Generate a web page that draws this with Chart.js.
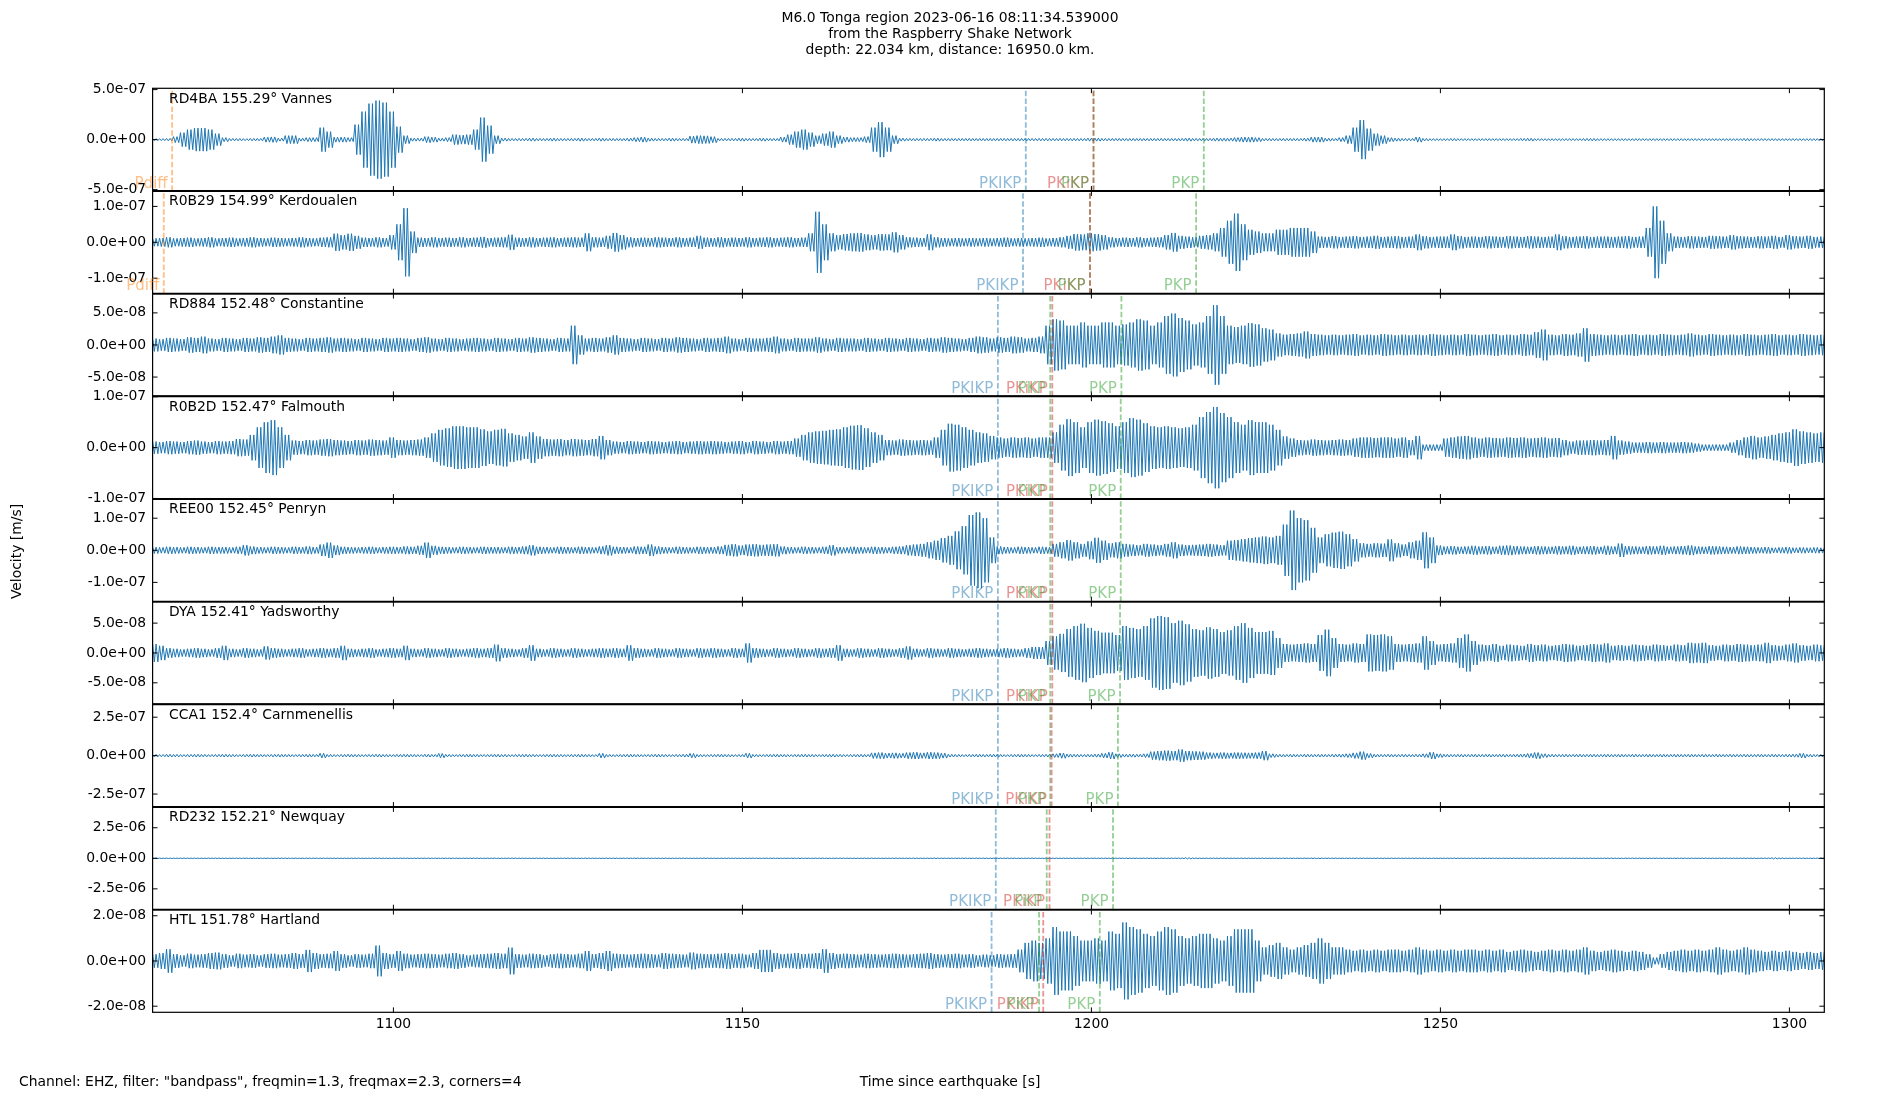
<!DOCTYPE html>
<html>
<head>
<meta charset="utf-8">
<title>M6.0 Tonga region - Raspberry Shake section</title>
<script src="https://cdn.jsdelivr.net/npm/chart.js@4.4.0/dist/chart.umd.min.js"></script>
<style>
  html, body { margin: 0; padding: 0; background: #fff; }
  canvas { display: block; }
</style>
</head>
<body>
<canvas id="seis" width="1900" height="1100"></canvas>
<script>
const titleLines = [
    'M6.0 Tonga region 2023-06-16 08:11:34.539000',
    'from the Raspberry Shake Network',
    'depth: 22.034 km, distance: 16950.0 km.'
];
const xLabel = 'Time since earthquake [s]';
const yLabel = 'Velocity [m/s]';
const footNote = 'Channel: EHZ, filter: "bandpass", freqmin=1.3, freqmax=2.3, corners=4';

const timeStart = 1065.5;
const timeEnd = 1305;
const xTicks = [1100, 1150, 1200, 1250, 1300];

const stationNames = [
    'RD4BA 155.29° Vannes',
    'R0B29 154.99° Kerdoualen',
    'RD884 152.48° Constantine',
    'R0B2D 152.47° Falmouth',
    'REE00 152.45° Penryn',
    'DYA 152.41° Yadsworthy',
    'CCA1 152.4° Carnmenellis',
    'RD232 152.21° Newquay',
    'HTL 151.78° Hartland'
];

// y range of each panel (m/s), symmetric
const yLimits = [5.13e-7, 1.43e-7, 8.0e-8, 1.01e-7, 1.6e-7, 8.6e-8, 3.34e-7, 4.2e-6, 2.27e-8];
const yTickValues = [
    [-5e-7, 0, 5e-7],
    [-1e-7, 0, 1e-7],
    [-5e-8, 0, 5e-8],
    [-1e-7, 0, 1e-7],
    [-1e-7, 0, 1e-7],
    [-5e-8, 0, 5e-8],
    [-2.5e-7, 0, 2.5e-7],
    [-2.5e-6, 0, 2.5e-6],
    [-2e-8, 0, 2e-8]
];

// peak amplitude read for every second 1066 ... 1305, in nm/s
const ampRD4BA = [
    10, 10, 12, 30, 70, 100, 115, 115, 100, 60,
    20, 12, 12, 10, 12, 12, 25, 27, 15, 40,
    40, 15, 20, 20, 120, 80, 25, 25, 20, 150,
    280, 360, 390, 370, 280, 130, 40, 15, 15, 30,
    25, 15, 20, 50, 45, 50, 100, 220, 140, 40,
    15, 12, 12, 12, 15, 12, 12, 15, 12, 12,
    12, 15, 12, 12, 15, 12, 12, 12, 15, 20,
    25, 15, 12, 12, 15, 12, 12, 35, 40, 38,
    30, 12, 12, 12, 15, 12, 12, 15, 12, 12,
    25, 50, 80, 100, 70, 40, 60, 80, 40, 25,
    20, 20, 30, 120, 175, 120, 40, 15, 12, 12,
    12, 12, 15, 12, 12, 12, 12, 12, 12, 12,
    12, 12, 12, 12, 12, 12, 12, 12, 12, 12,
    12, 12, 12, 12, 15, 15, 12, 12, 12, 12,
    12, 12, 12, 12, 12, 12, 12, 12, 15, 12,
    12, 12, 15, 15, 15, 20, 25, 25, 20, 12,
    12, 12, 12, 12, 12, 15, 25, 25, 15, 12,
    20, 40, 120, 195, 110, 60, 40, 20, 15, 12,
    12, 25, 12, 10, 10, 10, 12, 10, 10, 10,
    10, 10, 10, 10, 10, 10, 12, 14, 10, 10,
    10, 10, 10, 10, 10, 12, 12, 10, 10, 10,
    10, 10, 10, 10, 10, 10, 10, 10, 10, 10,
    10, 10, 10, 10, 10, 10, 10, 10, 12, 10,
    10, 10, 10, 10, 10, 10, 10, 10, 10, 10
];
const ampR0B29 = [
    11, 12, 14, 11, 12, 13, 11, 12, 14, 11,
    12, 13, 11, 12, 14, 12, 11, 13, 12, 11,
    12, 14, 12, 11, 13, 14, 24, 20, 24, 18,
    13, 12, 14, 12, 20, 50, 95, 30, 13, 12,
    14, 12, 13, 12, 14, 12, 13, 15, 12, 13,
    14, 21, 13, 12, 14, 12, 13, 14, 12, 13,
    14, 13, 25, 14, 13, 18, 26, 20, 14, 12,
    13, 12, 14, 13, 12, 14, 12, 13, 18, 13,
    12, 14, 12, 13, 12, 14, 12, 13, 14, 12,
    13, 14, 12, 13, 25, 85, 50, 25, 20, 23,
    25, 26, 22, 20, 23, 22, 28, 20, 14, 13,
    12, 22, 14, 12, 11, 12, 11, 12, 11, 12,
    11, 12, 13, 11, 12, 11, 12, 13, 11, 12,
    14, 18, 23, 22, 25, 23, 20, 14, 12, 13,
    12, 14, 12, 13, 14, 20, 26, 18, 16, 14,
    18, 20, 25, 40, 60, 80, 50, 35, 30, 25,
    25, 35, 35, 40, 40, 40, 30, 16, 15, 17,
    15, 16, 17, 15, 16, 18, 15, 16, 17, 15,
    16, 22, 17, 15, 16, 16, 22, 17, 15, 16,
    15, 17, 16, 15, 17, 16, 15, 17, 16, 15,
    16, 22, 17, 15, 16, 17, 15, 16, 16, 15,
    16, 17, 15, 16, 40, 100, 60, 25, 16, 15,
    17, 16, 15, 18, 17, 16, 20, 17, 16, 15,
    17, 16, 18, 15, 20, 17, 16, 18, 15, 16
];
const ampRD884 = [
    10, 9, 11, 10, 9, 12, 11, 13, 10, 9,
    11, 10, 9, 11, 10, 12, 11, 13, 15, 11,
    10, 9, 11, 10, 11, 12, 10, 11, 10, 9,
    11, 10, 9, 11, 10, 11, 10, 9, 11, 12,
    10, 9, 11, 10, 9, 10, 11, 10, 9, 11,
    10, 9, 11, 10, 12, 11, 10, 9, 11, 10,
    30, 15, 10, 11, 10, 12, 15, 11, 10, 9,
    11, 10, 9, 11, 10, 12, 11, 10, 9, 11,
    10, 11, 13, 10, 9, 11, 10, 10, 11, 13,
    10, 9, 11, 10, 10, 12, 10, 9, 11, 10,
    10, 9, 11, 10, 9, 11, 10, 9, 11, 10,
    9, 11, 10, 12, 11, 10, 9, 11, 13, 12,
    10, 12, 11, 13, 12, 10, 11, 13, 30, 40,
    38, 30, 30, 35, 30, 30, 35, 35, 30, 32,
    35, 40, 38, 30, 35, 45, 49, 42, 38, 32,
    35, 45, 62, 45, 30, 28, 30, 34, 32, 26,
    24, 18, 16, 17, 18, 21, 17, 16, 15, 16,
    15, 16, 17, 15, 16, 15, 17, 16, 15, 16,
    15, 16, 15, 17, 16, 15, 16, 15, 17, 16,
    15, 16, 17, 15, 16, 15, 17, 16, 20, 24,
    16, 15, 17, 16, 18, 26, 17, 16, 15, 16,
    15, 16, 17, 15, 16, 15, 17, 16, 15, 16,
    18, 16, 15, 17, 16, 15, 16, 15, 17, 16,
    15, 16, 17, 15, 16, 15, 17, 16, 15, 16
];
const ampR0B2D = [
    12, 11, 13, 12, 11, 13, 14, 12, 11, 13,
    12, 13, 17, 16, 25, 40, 50, 54, 40, 25,
    14, 13, 15, 14, 16, 17, 15, 14, 13, 15,
    14, 16, 15, 14, 20, 15, 14, 15, 16, 20,
    28, 35, 38, 42, 42, 40, 40, 36, 32, 35,
    37, 28, 25, 22, 30, 22, 17, 16, 17, 15,
    17, 16, 15, 17, 23, 15, 12, 11, 13, 12,
    11, 13, 12, 11, 12, 13, 11, 12, 13, 12,
    13, 12, 11, 12, 13, 11, 13, 12, 11, 13,
    12, 13, 18, 25, 30, 32, 33, 35, 36, 40,
    43, 44, 38, 30, 25, 15, 14, 16, 15, 14,
    15, 14, 20, 35, 47, 45, 40, 35, 30, 28,
    23, 20, 18, 20, 19, 20, 18, 20, 20, 30,
    45, 56, 50, 40, 50, 55, 52, 48, 42, 50,
    58, 55, 48, 42, 40, 42, 40, 38, 40, 45,
    60, 70, 80, 68, 60, 50, 45, 54, 50, 50,
    45, 35, 22, 18, 15, 14, 16, 15, 14, 15,
    16, 15, 18, 20, 20, 19, 20, 20, 18, 20,
    15, 23, 6, 6, 6, 18, 20, 22, 23, 20,
    18, 20, 19, 18, 20, 19, 20, 18, 19, 20,
    18, 19, 15, 12, 14, 14, 15, 14, 15, 23,
    14, 12, 10, 10, 11, 10, 11, 10, 10, 11,
    10, 8, 6, 6, 6, 6, 10, 15, 20, 23,
    20, 22, 25, 28, 30, 36, 32, 30, 28, 30
];
const ampREE00 = [
    10, 9, 11, 10, 9, 11, 10, 9, 11, 10,
    10, 9, 11, 16, 12, 10, 9, 11, 10, 9,
    11, 10, 12, 10, 18, 24, 15, 11, 10, 9,
    10, 11, 9, 10, 11, 10, 12, 11, 14, 24,
    14, 11, 10, 9, 11, 10, 9, 11, 10, 10,
    9, 11, 10, 12, 16, 11, 10, 9, 11, 10,
    9, 11, 10, 9, 12, 16, 11, 10, 9, 12,
    11, 18, 12, 10, 9, 11, 10, 9, 11, 10,
    10, 12, 17, 19, 15, 18, 19, 17, 18, 19,
    12, 10, 9, 11, 10, 9, 11, 16, 10, 9,
    11, 10, 9, 11, 10, 9, 11, 12, 16, 18,
    20, 25, 30, 38, 45, 59, 75, 110, 118, 100,
    40, 12, 10, 9, 11, 10, 9, 11, 10, 20,
    25, 32, 25, 20, 28, 39, 30, 22, 25, 20,
    18, 16, 20, 18, 16, 20, 25, 18, 16, 17,
    18, 20, 18, 16, 30, 32, 35, 38, 40, 43,
    40, 45, 80, 124, 100, 94, 70, 40, 50, 55,
    58, 50, 35, 22, 20, 22, 21, 34, 22, 18,
    25, 30, 56, 40, 15, 12, 13, 11, 12, 14,
    12, 13, 11, 14, 15, 13, 12, 11, 13, 12,
    11, 13, 12, 14, 11, 12, 13, 11, 14, 12,
    21, 13, 12, 11, 13, 12, 14, 11, 12, 13,
    15, 12, 11, 13, 12, 11, 10, 12, 11, 10,
    9, 10, 8, 9, 10, 8, 9, 8, 9, 8
];
const ampDYA = [
    15, 12, 8, 7, 6, 7, 8, 7, 6, 8,
    12, 7, 6, 8, 7, 6, 11, 8, 7, 6,
    7, 8, 6, 7, 8, 7, 8, 12, 7, 6,
    7, 8, 6, 7, 8, 7, 12, 7, 6, 8,
    7, 6, 8, 7, 6, 7, 8, 7, 8, 14,
    8, 7, 6, 8, 13, 7, 6, 8, 7, 6,
    8, 7, 6, 7, 8, 7, 8, 7, 13, 8,
    7, 6, 8, 7, 6, 8, 7, 6, 8, 7,
    8, 7, 6, 8, 7, 16, 8, 7, 6, 8,
    7, 6, 8, 7, 6, 8, 7, 8, 13, 7,
    6, 8, 7, 6, 8, 7, 6, 8, 11, 7,
    6, 8, 7, 6, 8, 7, 6, 7, 8, 7,
    6, 7, 8, 7, 6, 8, 10, 10, 20, 28,
    32, 40, 45, 49, 42, 37, 34, 34, 30, 45,
    42, 40, 45, 58, 62, 60, 50, 54, 48, 40,
    38, 43, 40, 35, 38, 45, 50, 42, 35, 35,
    37, 25, 15, 14, 15, 16, 15, 30, 39, 25,
    15, 14, 16, 15, 31, 30, 31, 28, 15, 14,
    15, 16, 28, 20, 14, 15, 16, 25, 31, 20,
    14, 13, 15, 12, 14, 13, 12, 15, 13, 14,
    12, 13, 15, 14, 12, 13, 15, 14, 16, 12,
    13, 12, 14, 13, 12, 14, 13, 12, 14, 13,
    17, 16, 17, 13, 12, 14, 13, 15, 14, 13,
    14, 17, 13, 12, 14, 16, 13, 12, 14, 13
];
const ampCCA1 = [
    8, 7, 9, 8, 7, 8, 9, 8, 7, 8,
    9, 8, 7, 8, 9, 8, 7, 8, 9, 8,
    7, 8, 9, 8, 15, 8, 7, 8, 9, 8,
    7, 8, 9, 8, 7, 8, 9, 8, 7, 9,
    8, 14, 8, 7, 8, 9, 8, 7, 8, 9,
    8, 7, 8, 9, 8, 7, 8, 9, 8, 7,
    8, 9, 8, 7, 15, 8, 7, 8, 9, 8,
    7, 8, 9, 8, 7, 8, 9, 14, 8, 7,
    8, 9, 8, 7, 8, 15, 8, 7, 8, 9,
    8, 7, 8, 9, 8, 7, 8, 9, 8, 7,
    8, 9, 8, 18, 20, 16, 18, 15, 20, 22,
    18, 22, 20, 16, 9, 8, 7, 8, 9, 8,
    9, 8, 7, 8, 9, 8, 7, 8, 9, 12,
    17, 10, 9, 8, 9, 10, 15, 22, 12, 9,
    10, 9, 12, 26, 30, 33, 30, 40, 30, 28,
    26, 20, 18, 20, 18, 20, 19, 18, 20, 30,
    12, 9, 8, 9, 8, 9, 8, 9, 8, 9,
    10, 12, 18, 26, 14, 9, 8, 9, 8, 9,
    8, 9, 12, 22, 12, 9, 8, 9, 8, 9,
    8, 9, 8, 9, 8, 9, 10, 14, 20, 12,
    9, 8, 9, 8, 9, 8, 9, 8, 9, 8,
    9, 8, 9, 8, 9, 8, 9, 8, 9, 8,
    9, 8, 9, 8, 9, 8, 9, 8, 9, 8,
    9, 8, 9, 8, 9, 10, 15, 9, 8, 8
];
const ampRD232 = [
    20, 18, 22, 20, 18, 20, 22, 18, 20, 22,
    18, 20, 22, 20, 18, 20, 22, 18, 20, 22,
    20, 18, 22, 20, 18, 20, 22, 18, 20, 22,
    18, 20, 22, 20, 18, 20, 22, 18, 20, 22,
    20, 18, 22, 20, 18, 20, 22, 18, 20, 22,
    18, 20, 22, 20, 18, 20, 22, 18, 20, 22,
    20, 18, 22, 20, 18, 20, 22, 18, 20, 22,
    18, 20, 22, 20, 18, 20, 22, 18, 20, 22,
    20, 18, 22, 20, 18, 20, 22, 18, 20, 22,
    18, 20, 22, 20, 18, 20, 22, 18, 20, 22,
    20, 18, 22, 20, 18, 20, 22, 18, 20, 22,
    18, 20, 22, 20, 18, 20, 22, 18, 20, 22,
    20, 18, 22, 20, 18, 20, 22, 18, 20, 22,
    18, 20, 22, 20, 18, 20, 22, 18, 20, 22,
    20, 18, 22, 20, 18, 20, 22, 30, 50, 30,
    18, 20, 22, 20, 18, 20, 22, 18, 20, 22,
    20, 18, 22, 20, 18, 20, 22, 18, 20, 22,
    18, 20, 22, 20, 18, 20, 22, 18, 20, 22,
    20, 18, 22, 20, 18, 20, 22, 18, 20, 22,
    18, 20, 22, 20, 18, 20, 22, 18, 20, 22,
    20, 18, 22, 20, 18, 20, 22, 18, 20, 22,
    18, 20, 22, 20, 18, 20, 22, 18, 20, 22,
    20, 18, 22, 20, 18, 20, 22, 18, 20, 22,
    18, 30, 50, 30, 18, 20, 22, 18, 20, 22
];
const ampHTL = [
    3.0, 3.5, 5.2, 3.0, 2.5, 3.2, 2.8, 3.0, 3.5, 3.7,
    3.0, 2.5, 3.2, 2.8, 3.0, 2.5, 3.0, 3.2, 2.8, 3.0,
    3.5, 3.0, 4.9, 3.5, 3.0, 3.2, 4.4, 3.0, 2.5, 3.0,
    2.8, 3.2, 6.8, 3.5, 3.0, 4.4, 3.2, 2.8, 3.0, 3.2,
    3.0, 2.8, 3.2, 3.5, 3.0, 2.5, 2.8, 3.0, 3.2, 3.5,
    3.2, 5.9, 3.0, 2.8, 3.2, 3.0, 2.5, 3.0, 3.2, 3.0,
    2.8, 3.2, 4.4, 3.0, 3.5, 4.4, 3.2, 3.0, 2.8, 3.0,
    3.2, 3.0, 2.8, 3.5, 3.2, 3.0, 2.8, 3.7, 3.2, 3.0,
    3.0, 3.2, 3.5, 3.0, 3.2, 2.8, 3.5, 4.9, 4.9, 3.5,
    3.0, 3.2, 3.5, 3.0, 3.2, 3.5, 5.2, 3.5, 3.0, 3.2,
    3.0, 2.8, 3.2, 3.0, 2.8, 3.0, 3.2, 3.0, 2.8, 3.0,
    3.2, 3.5, 3.0, 2.8, 3.0, 3.2, 2.8, 3.0, 2.5, 2.8,
    2.5, 3.0, 2.8, 3.0, 5, 8, 9, 8, 10, 15,
    13, 13, 11, 9, 9, 10, 9, 13, 12, 17,
    15, 14, 12, 11, 13, 15, 14, 11, 10, 11,
    12, 12, 10, 9, 11, 14, 14, 14, 9, 6,
    7, 8, 6, 5, 6, 7, 8, 10, 8, 6,
    6, 5, 4.5, 5, 4.5, 5, 4.5, 5, 5, 4.5,
    5, 6, 5, 4.5, 5, 4.5, 5, 4.5, 5, 5,
    4.5, 5, 4.5, 5, 4, 4.5, 5, 4.5, 4, 4.5,
    5, 4.5, 5, 4.5, 5, 6, 4.5, 4, 4.5, 5,
    4.5, 4, 4.5, 4, 3, 1.5, 3, 4, 4.5, 5,
    4.5, 5, 4.5, 5, 6, 5, 4.5, 5, 6, 5,
    4.5, 4, 4.5, 4, 4.5, 4, 3.5, 4, 3.5, 4
];
const amplitudes = [ampRD4BA, ampR0B29, ampRD884, ampR0B2D, ampREE00, ampDYA, ampCCA1, ampRD232, ampHTL];

// arrival times (s) per station, null when before the window
const phaseNames = ['Pdiff', 'PKIKP', 'PKiKP', 'PKP', 'PKP'];
const phaseTimes = [
    [1068.3, 1190.6, 1200.3, 1200.3, 1216.1],
    [1067.1, 1190.2, 1199.8, 1199.8, 1215.0],
    [null, 1186.6, 1194.4, 1194.1, 1204.3],
    [null, 1186.6, 1194.4, 1194.1, 1204.2],
    [null, 1186.6, 1194.4, 1194.1, 1204.2],
    [null, 1186.6, 1194.4, 1194.1, 1204.1],
    [null, 1186.6, 1194.3, 1194.1, 1203.8],
    [null, 1186.3, 1194.0, 1193.6, 1203.1],
    [null, 1185.7, 1193.1, 1192.5, 1201.2]
];
const phaseColors = ['rgba(255,127,14,0.5)', 'rgba(31,119,180,0.5)', 'rgba(214,39,40,0.5)', 'rgba(44,160,44,0.5)', 'rgba(44,160,44,0.5)'];

const FONT = '"DejaVu Sans", sans-serif';
Chart.defaults.font.family = FONT;
Chart.defaults.color = '#000';

function sci(v) {
    const parts = Number(v).toExponential(1).split('e');
    const sign = parts[1].startsWith('-') ? '-' : '+';
    return parts[0] + 'e' + sign + parts[1].replace(/^[+-]/, '').padStart(2, '0');
}

// oscillating trace, two cycles per second, scaled by the amplitude of that second
function trace(amp) {
    const pts = [];
    const n = Math.round((timeEnd - timeStart) * 4);
    for (let k = 0; k <= n; k++) {
        const t = timeStart + k / 4;
        const i = Math.min(amp.length - 1, Math.floor(t - timeStart));
        const a = amp[i] * 1e-9;
        pts.push({ x: t, y: k % 2 === 0 ? a : -a });
    }
    return pts;
}

const datasets = [];
const scales = {
    x: {
        type: 'linear',
        position: 'bottom',
        min: timeStart,
        max: timeEnd,
        grid: { display: false, drawTicks: false },
        border: { display: false },
        afterBuildTicks: s => { s.ticks = xTicks.map(v => ({ value: v })); },
        afterFit: s => { s.height = 40; },
        ticks: { font: { size: 13.9 }, color: '#000', padding: 4, maxRotation: 0, autoSkip: false, callback: v => String(v) }
    }
};

amplitudes.forEach((amp, i) => {
    const id = 'y' + i;
    phaseTimes[i].forEach((t, j) => {
        if (t === null) return;
        datasets.push({
            data: [{ x: t, y: -yLimits[i] }, { x: t, y: yLimits[i] }],
            yAxisID: id,
            borderColor: phaseColors[j],
            borderWidth: 1.8,
            borderDash: [5.5, 2.4],
            pointRadius: 0,
            order: 0
        });
    });
    datasets.push({
        data: trace(amp),
        yAxisID: id,
        borderColor: '#1f77b4',
        borderWidth: 1,
        pointRadius: 0,
        order: 1
    });
    scales[id] = {
        type: 'linear',
        position: 'left',
        stack: 'panels',
        stackWeight: 1,
        weight: 20 - i,
        min: -yLimits[i],
        max: yLimits[i],
        grid: { display: false, drawTicks: false },
        border: { display: false },
        afterBuildTicks: s => { s.ticks = yTickValues[i].map(v => ({ value: v })); },
        afterFit: s => { s.width = 152.6; },
        ticks: { font: { size: 13.9 }, color: '#000', padding: 6.5, autoSkip: false, callback: v => sci(v) }
    };
});

const decor = {
    id: 'decor',
    afterDraw(chart) {
        const c = chart.ctx;
        const area = chart.chartArea;
        const xs = chart.scales.x;
        const seg = (x1, y1, x2, y2) => { c.beginPath(); c.moveTo(x1, y1); c.lineTo(x2, y2); c.stroke(); };
        c.save();
        c.strokeStyle = '#000';
        amplitudes.forEach((amp, i) => {
            const ys = chart.scales['y' + i];
            const top = ys.top, bot = ys.bottom;
            c.lineWidth = 1.2;
            c.strokeRect(area.left, top, area.right - area.left, bot - top);
            c.lineWidth = 1;
            xTicks.forEach(v => {
                const px = xs.getPixelForValue(v);
                seg(px, top, px, top + 4.9);
                seg(px, bot, px, bot - 4.9);
            });
            yTickValues[i].forEach(v => {
                const py = ys.getPixelForValue(v);
                seg(area.left, py, area.left + 4.9, py);
                seg(area.right, py, area.right - 4.9, py);
            });
            if (i > 0) { c.lineWidth = 1.9; seg(area.left, top, area.right, top); }

            c.fillStyle = '#000';
            c.font = '13.9px ' + FONT;
            c.textAlign = 'left';
            c.textBaseline = 'alphabetic';
            c.fillText(stationNames[i], area.left + 16.4, top + 14.4);

            c.font = '15px ' + FONT;
            c.textAlign = 'right';
            phaseTimes[i].forEach((t, j) => {
                if (t === null) return;
                c.fillStyle = phaseColors[j];
                c.fillText(phaseNames[j], xs.getPixelForValue(t) - 4.5, bot - 3.3);
            });
        });

        c.fillStyle = '#000';
        c.font = '13.9px ' + FONT;
        c.textAlign = 'center';
        c.textBaseline = 'alphabetic';
        titleLines.forEach((s, k) => c.fillText(s, 950, 22.3 + k * 16));
        c.fillText(xLabel, 950, 1085.5);
        c.textAlign = 'left';
        c.fillText(footNote, 19, 1085.5);
        c.translate(21, 551.5);
        c.rotate(-Math.PI / 2);
        c.textAlign = 'center';
        c.fillText(yLabel, 0, 0);
        c.restore();
    }
};

new Chart(document.getElementById('seis'), {
    type: 'line',
    data: { datasets },
    options: {
        responsive: false,
        animation: false,
        devicePixelRatio: 1,
        layout: { padding: { left: 0, top: 88.3, right: 75.7, bottom: 47.7 } },
        elements: { line: { tension: 0 }, point: { radius: 0 } },
        plugins: { legend: { display: false }, tooltip: { enabled: false }, title: { display: false } },
        scales
    },
    plugins: [decor]
});
</script>
</body>
</html>
